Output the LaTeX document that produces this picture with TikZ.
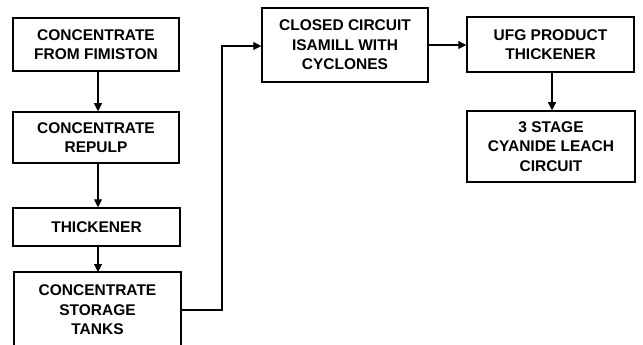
\documentclass[tikz,border=0pt]{standalone}
\usepackage{fontspec}
\setmainfont{Liberation Sans}
\usetikzlibrary{arrows.meta}
\begin{document}
\begin{tikzpicture}[x=1pt,y=-1pt,
  box/.style={draw, line width=1.5pt, minimum width=#1, inner sep=0pt, align=center,
    font=\fontsize{15.5}{19.5}\selectfont\bfseries},
  box/.default=166pt,
  txt/.style={inner sep=0pt, align=center, font=\fontsize{15.5}{19.5}\selectfont\bfseries},
  flow/.style={line width=1.1pt, -{Triangle[width=8pt,length=8pt]}},
  wire/.style={line width=1.1pt}]
\useasboundingbox (0,0) rectangle (643,345);
\node[box=166pt, minimum height=53pt] (b1) at (96,44.5) {CONCENTRATE\\FROM FIMISTON};
\node[box=166pt, minimum height=51pt] (b2) at (96,137.5) {CONCENTRATE\\REPULP};
\node[box=167pt, minimum height=38pt] (b3) at (96.5,227) {THICKENER};
% open-bottom storage tanks box
\coordinate (b4tl) at (14,272);
\coordinate (b4tr) at (181,272);
\coordinate (b4bl) at (14,345);
\coordinate (b4br) at (181,345);
\draw[line width=1.5pt] (b4bl) -- (b4tl) -- (b4tr) -- (b4br);
\node[txt] (b4) at (97.5,310) {CONCENTRATE\\STORAGE\\TANKS};
\coordinate (b4out) at (181,310);
\node[box=166pt, minimum height=74pt] (b5) at (345,45) {CLOSED CIRCUIT\\ISAMILL WITH\\CYCLONES};
\node[box=167pt, minimum height=55pt] (b6) at (550.5,44.5) {UFG PRODUCT\\THICKENER};
\node[box=168pt, minimum height=71pt] (b7) at (551,146.5) {3 STAGE\\CYANIDE LEACH\\CIRCUIT};
\coordinate (c1) at (222,310);
\coordinate (c2) at (222,46);
\draw[flow] (b1.south -| 98,0) -- (b2.north -| 98,0);
\draw[flow] (b2.south -| 98,0) -- (b3.north -| 98,0);
\draw[flow] (b3.south -| 98,0) -- (98,272);
\draw[flow] (b4out) -- (c1) -- (c2) -- (c2 -| b5.west);
\draw[flow] (b5.east |- 0,45) -- (b6.west |- 0,45);
\draw[flow] (b6.south -| 552,0) -- (b7.north -| 552,0);
\end{tikzpicture}
\end{document}
